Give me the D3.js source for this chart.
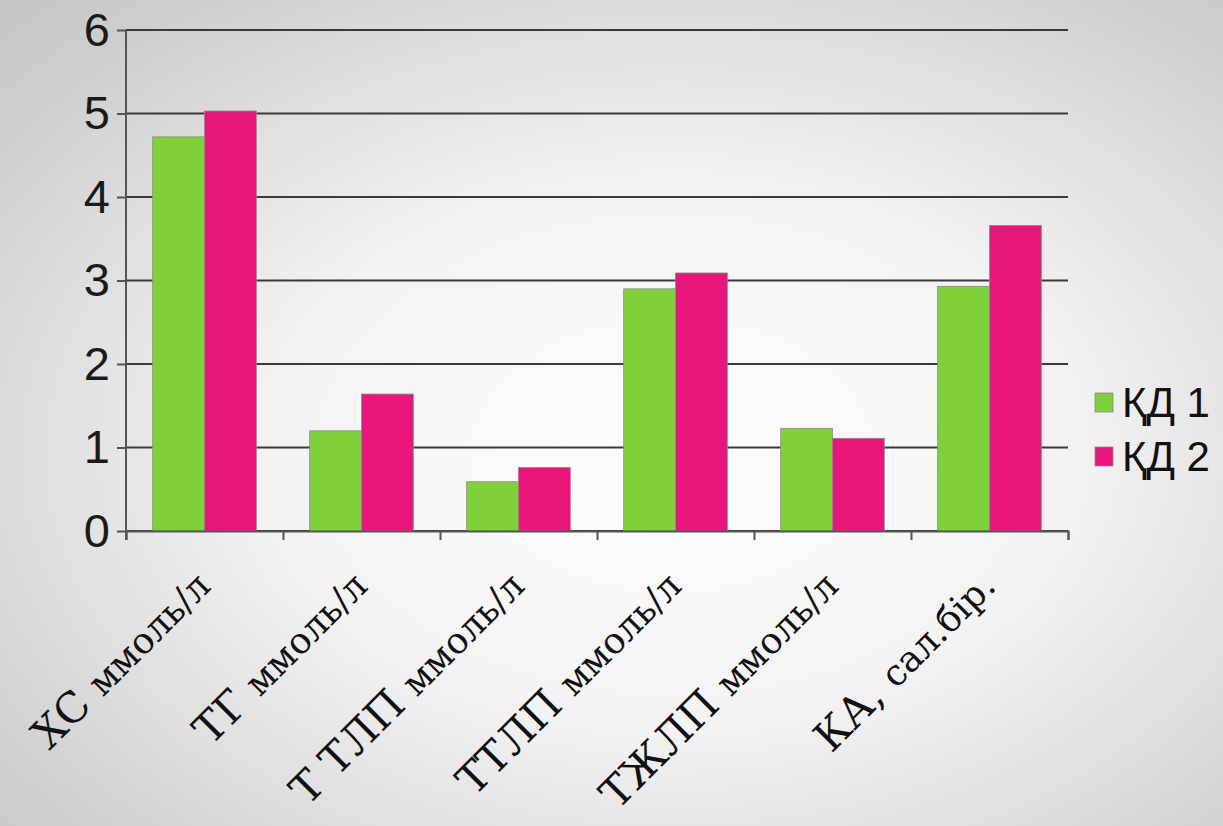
<!DOCTYPE html>
<html>
<head>
<meta charset="utf-8">
<script src="https://cdn.jsdelivr.net/npm/d3@7"></script>
<style>
  html, body { margin: 0; padding: 0; }
  body { width: 1223px; height: 826px; overflow: hidden; }
</style>
</head>
<body>
<div id="svg-container"></div>
<script>
/** Chart data */
const categories = ["ХС", "ТГ", "Т ТЛП", "ТТЛП", "ТЖЛП", "КА,"];
const units = ["ммоль/л", "ммоль/л", "ммоль/л", "ммоль/л", "ммоль/л", "сал.бір."];
const seriesNames = ["ҚД 1", "ҚД 2"];
const kd1 = [4.72, 1.20, 0.59, 2.90, 1.23, 2.93];
const kd2 = [5.03, 1.64, 0.76, 3.09, 1.11, 3.66];
const yTicks = [0, 1, 2, 3, 4, 5, 6];

const colors = ["#7fd13b", "#ea157a"];

const w = 1223;
const h = 826;
const plot = {left: 126, right: 1068, top: 30, bottom: 531};

const svg = d3.select("div#svg-container")
  .append("svg")
  .attr("width", w)
  .attr("height", h)
;

/** Background gradient */
const defs = svg.append("defs");
const grad = defs.append("radialGradient")
  .attr("id", "bg")
  .attr("cx", "55%").attr("cy", "55%").attr("r", "75%")
;
grad.append("stop").attr("offset", "0%").attr("stop-color", "#fefefe");
grad.append("stop").attr("offset", "45%").attr("stop-color", "#f2f2f2");
grad.append("stop").attr("offset", "100%").attr("stop-color", "#c6c6c6");

svg.append("rect")
  .attr("width", w)
  .attr("height", h)
  .attr("fill", "url(#bg)")
;

/** Scales */
const x0 = d3.scaleBand()
  .domain(categories)
  .range([plot.left, plot.right])
  .paddingInner(0.34)
  .paddingOuter(0.17)
;
const x1 = d3.scaleBand()
  .domain(seriesNames)
  .range([0, x0.bandwidth()])
;
const y = d3.scaleLinear()
  .domain([0, 6])
  .range([plot.bottom, plot.top])
;
const xEdges = d3.scaleLinear()
  .domain([0, categories.length])
  .range([plot.left, plot.right])
;

/** Gridlines */
svg.append("g")
  .attr("id", "grid")
  .selectAll("line")
  .data(yTicks)
  .enter()
  .append("line")
  .attr("x1", plot.left)
  .attr("x2", plot.right)
  .attr("y1", (d) => y(d))
  .attr("y2", (d) => y(d))
  .attr("stroke", "#3a3a3a")
  .attr("stroke-width", 2)
;

/** Bars */
const data = categories.map((c, i) => ({cat: c, vals: [kd1[i], kd2[i]]}));
svg.append("g")
  .attr("id", "bars")
  .selectAll("g")
  .data(data)
  .enter()
  .append("g")
  .attr("transform", (d) => "translate(" + x0(d.cat) + ",0)")
  .selectAll("rect")
  .data((d) => d.vals.map((v, j) => ({name: seriesNames[j], v: v, j: j})))
  .enter()
  .append("rect")
  .attr("x", (d) => x1(d.name))
  .attr("y", (d) => y(d.v))
  .attr("width", x1.bandwidth())
  .attr("height", (d) => y(0) - y(d.v))
  .attr("fill", (d) => colors[d.j])
  .attr("stroke", "#8a8a8a")
  .attr("stroke-width", 0.8)
;

/** Y axis */
const yAxis = d3.axisLeft(y)
  .tickValues(yTicks)
  .tickFormat(d3.format("d"))
  .tickSize(9)
  .tickPadding(7)
;
const yG = svg.append("g")
  .attr("id", "y-axis")
  .attr("transform", "translate(" + plot.left + ",0)")
  .call(yAxis)
;
yG.select(".domain").remove();
yG.selectAll(".tick line").attr("stroke", "#555").attr("stroke-width", 2);
yG.selectAll(".tick text")
  .attr("fill", "#1a1a1a")
  .style("font-family", "'Liberation Sans', Arial, sans-serif")
  .style("font-size", "47px")
;
svg.append("line")
  .attr("x1", plot.left).attr("x2", plot.left)
  .attr("y1", plot.top).attr("y2", plot.bottom + 9)
  .attr("stroke", "#555")
  .attr("stroke-width", 2)
;

/** X axis ticks at category edges */
const xAxis = d3.axisBottom(xEdges)
  .tickValues(d3.range(categories.length + 1))
  .tickFormat("")
  .tickSize(9)
;
const xG = svg.append("g")
  .attr("id", "x-axis")
  .attr("transform", "translate(0," + plot.bottom + ")")
  .call(xAxis)
;
xG.select(".domain").attr("stroke", "#555").attr("stroke-width", 2);
xG.selectAll(".tick line").attr("stroke", "#555").attr("stroke-width", 2);

/** Rotated category labels */
const labels = svg.append("g")
  .attr("id", "x-labels")
  .selectAll("text")
  .data(categories)
  .enter()
  .append("text")
  .attr("transform", (d) => "translate(" + (x0(d) + x0.bandwidth() / 2 + 8) + ",588) rotate(-45)")
  .attr("text-anchor", "end")
  .attr("fill", "#111")
  .style("font-family", "'DejaVu Serif', 'Liberation Serif', serif")
  .style("font-size", "42px")
;
labels.append("tspan").text((d) => d + " ");
labels.append("tspan")
  .style("font-size", "36px")
  .text((d, i) => units[i]);

/** Legend */
const legend = svg.append("g")
  .attr("id", "legend")
  .selectAll("g")
  .data(seriesNames)
  .enter()
  .append("g")
  .attr("transform", (d, i) => "translate(1095," + (393 + i * 54) + ")")
;
legend.append("rect")
  .attr("width", 18)
  .attr("height", 19)
  .attr("fill", (d, i) => colors[i])
  .attr("stroke", "#8a8a8a")
  .attr("stroke-width", 0.8)
;
legend.append("text")
  .attr("x", 27)
  .attr("y", 24)
  .attr("fill", "#111")
  .style("font-family", "'Liberation Sans', Arial, sans-serif")
  .style("font-size", "42px")
  .text((d) => d)
;
</script>
</body>
</html>
